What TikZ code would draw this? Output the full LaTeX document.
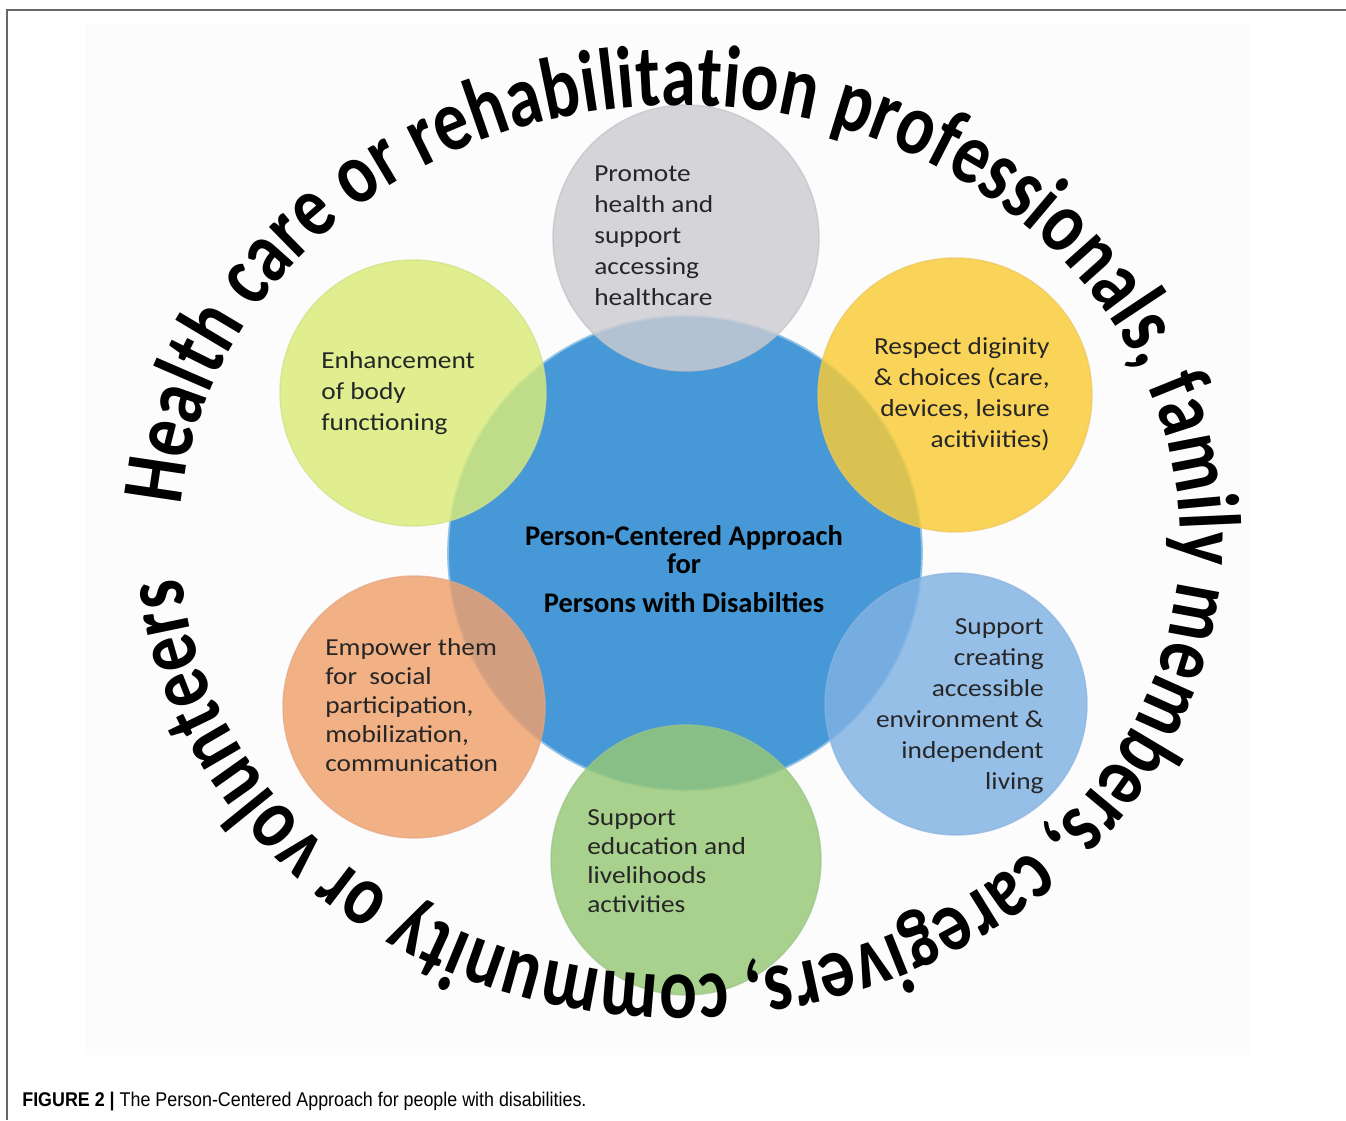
\documentclass[tikz,border=0pt]{standalone}
\usepackage{fontspec}
\setmainfont{Carlito}
\newfontfamily\capfont{Liberation Sans}[FakeStretch=0.9]
\newfontfamily\ringfont{Carlito}[FakeStretch=0.8]
\newfontfamily\bubfont{Carlito}[FakeStretch=1.12]
\usetikzlibrary{decorations.text,positioning}

\definecolor{hubblue}{RGB}{70,152,214}
\definecolor{greyin}{RGB}{204,204,210}
\definecolor{greyout}{RGB}{166,166,174}
\definecolor{limein}{RGB}{218,236,120}
\definecolor{limeout}{RGB}{188,212,86}
\definecolor{yelin}{RGB}{250,204,52}
\definecolor{yelout}{RGB}{226,174,28}
\definecolor{orgin}{RGB}{240,160,108}
\definecolor{orgout}{RGB}{216,126,76}
\definecolor{skyin}{RGB}{128,178,228}
\definecolor{skyout}{RGB}{88,146,208}
\definecolor{grnin}{RGB}{150,200,118}
\definecolor{grnout}{RGB}{114,174,88}
\colorlet{bubin}{white}
\colorlet{bubout}{gray}

% soft ball: flat middle, darker band near the rim
\pgfdeclareradialshading[bubin,bubout]{bubble}{\pgfpoint{0bp}{0bp}}{%
  color(0bp)=(bubin); color(32bp)=(bubin); color(46bp)=(bubout); color(50bp)=(bubout)}

\begin{document}
\begin{tikzpicture}[x=0.02cm, y=0.02cm,
    bubble/.style 2 args={circle, inner sep=0pt, shade, shading=bubble,
        /utils/exec={\colorlet{bubin}{#1}\colorlet{bubout}{#2}},
        fill opacity=0.82, draw=#2!70!white, line width=0.8pt, draw opacity=0.7},
    hub/.style={circle, inner sep=0pt, fill=hubblue, draw=hubblue!60!white,
        line width=1pt},
    lbl/.style={inner sep=0pt, text=black!85,
        font=\bubfont\fontsize{13.9}{17.6}\selectfont},
    caption/.style={inner sep=0pt, font=\capfont\fontsize{11.3}{13}\selectfont},
  ]
    \useasboundingbox (0,0) rectangle (1346,1120);
    \fill[black!1] (85,65) rectangle (1250,1097);
    \draw[black!60, line width=1pt] (7,0) -- (7,1110) -- (1346,1110);

    % centre and the six satellites
    \node[hub, minimum size=9.48cm] (hub) at (685,567) {};
    \node[bubble={greyin}{greyout}, minimum size=5.32cm] (health)  at (686,882) {};
    \node[bubble={limein}{limeout}, minimum size=5.32cm] (body)    at (413,727) {};
    \node[bubble={yelin}{yelout},   minimum size=5.48cm] (dignity) at (955,725) {};
    \node[bubble={orgin}{orgout},   minimum size=5.24cm] (social)  at (414,413) {};
    \node[bubble={skyin}{skyout},   minimum size=5.24cm] (access)  at (956,416) {};
    \node[bubble={grnin}{grnout},   minimum size=5.40cm] (educ)    at (686,260) {};

    \node[align=center, inner sep=0pt, font=\bfseries\fontsize{16.2}{15.9}\selectfont]
        (hubtxt) at (684,551) {Person-Centered Approach\\for\\[6.2pt]Persons with Disabilties};

    \node[lbl, anchor=west, align=left]  (healthtxt)  at (594,884)
        {Promote\\health and\\support\\accessing\\healthcare};
    \node[lbl, anchor=west, align=left]  (bodytxt)    at (321,727)
        {Enhancement\\of body\\functioning};
    \node[lbl, anchor=east, align=right] (dignitytxt) at (1050,726)
        {Respect diginity\\\& choices (care,\\devices, leisure\\acitiviities)};
    \node[lbl, anchor=west, align=left, font=\bubfont\fontsize{13.9}{16.6}\selectfont]
        (socialtxt) at (325,415)
        {Empower them\\for\ \ social\\participation,\\mobilization,\\communication};
    \node[lbl, anchor=east, align=right] (accesstxt)  at (1044,414)
        {Support\\creating\\accessible\\environment \&\\independent\\living};
    \node[lbl, anchor=west, align=left, font=\bubfont\fontsize{13.9}{16.6}\selectfont]
        (eductxt) at (587,259)
        {Support\\education and\\livelihoods\\activities};

    % text running round the whole figure
    \coordinate (ring) at (680,580);
    \path[decorate, decoration={text along path, text align={fit to path},
        text={|\ringfont\bfseries\fontsize{50}{50}\selectfont|Health care or rehabilitation professionals, family members, caregivers, community or volunteers}}]
        (ring) ++(175.5:500 and 435)
        arc[start angle=175.5, end angle=-175, x radius=500, y radius=435];

    \node[caption, anchor=west] (cap) at (22,18)
        {\textbf{FIGURE 2 |} The Person-Centered Approach for people with disabilities.};
\end{tikzpicture}
\end{document}
